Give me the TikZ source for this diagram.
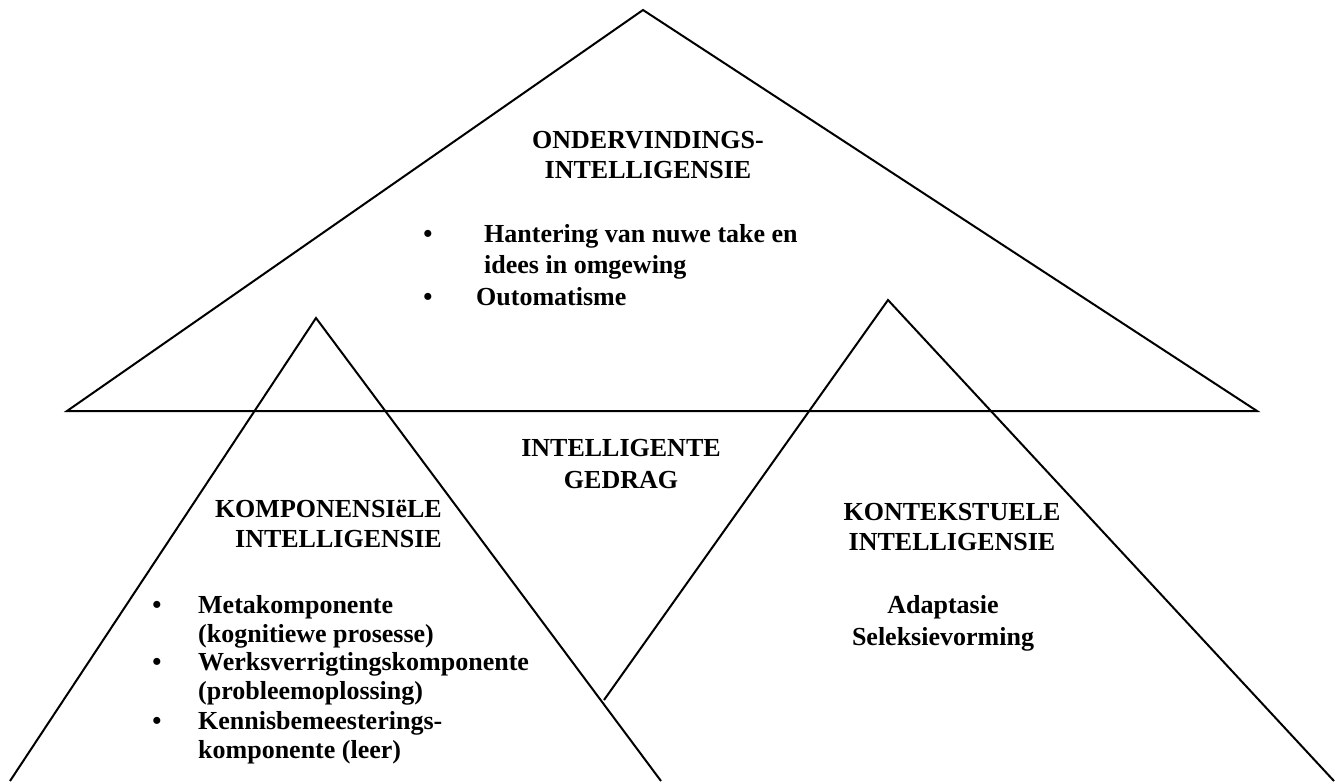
\documentclass[tikz,border=0pt]{standalone}
\usepackage{fontspec}
\setmainfont{Liberation Serif}
\usetikzlibrary{calc}
\tikzset{
  side/.style={line width=2pt,line join=miter},
  head/.style={font=\bfseries\fontsize{26}{30}\selectfont,align=center,
    inner sep=0pt,anchor=base},
  item/.style={font=\bfseries\fontsize{26}{29}\selectfont,align=left,
    inner sep=0pt,anchor=base west},
  dot/.style={font=\bfseries\fontsize{26}{29}\selectfont,inner sep=0pt,
    anchor=base}
}

\begin{document}
\begin{tikzpicture}[x=1pt,y=-1pt]
  \useasboundingbox (0,0) rectangle (1340,781);
  % the three triangles
  \coordinate (ondtop) at (643,10);
  \coordinate (ondleft) at (67,411);
  \coordinate (ondright) at (1257,411);
  \coordinate (komtop) at (316,318);
  \coordinate (komleft) at (10,781);
  \coordinate (komright) at (661,781);
  \coordinate (kontop) at (888,300);
  \coordinate (konleft) at (604,700);
  \coordinate (konright) at (1334,781);
  \draw[side] (ondtop)--(ondleft)--(ondright)--cycle;
  \draw[side] (komleft)--(komtop)--(komright);
  \draw[side] (konleft)--(kontop)--(konright);

  % ondervindings-intelligensie (base = last line)
  \node[head] (ondhead) at (648,178) {ONDERVINDINGS-\\INTELLIGENSIE};
  \node[dot] (onddot1) at (428,242) {•};
  \node[item,font=\bfseries\fontsize{26}{31}\selectfont] (onditem1) at (484,273)
    {Hantering van nuwe take en\\idees in omgewing};
  \node[dot] (onddot2) at (428,305) {•};
  \node[item] (onditem2) at (476,305) {Outomatisme};

  % middel
  \node[head,font=\bfseries\fontsize{26}{32}\selectfont] (gedrag) at (621,488)
    {INTELLIGENTE\\GEDRAG};

  % komponensiele intelligensie
  \node[head,align=right,anchor=base east] (komhead) at (442,547)
    {KOMPONENSIëLE\\INTELLIGENSIE};
  \node[dot] (komdot1) at (157,613) {•};
  \node[item] (komitem1) at (198,642) {Metakomponente\\(kognitiewe prosesse)};
  \node[dot] (komdot2) at (157,670) {•};
  \node[item] (komitem2) at (198,699) {Werksverrigtingskomponente\\(probleemoplossing)};
  \node[dot] (komdot3) at (157,729) {•};
  \node[item] (komitem3) at (198,758) {Kennisbemeesterings-\\komponente (leer)};

  % kontekstuele intelligensie
  \node[head] (konhead) at (952,550) {KONTEKSTUELE\\INTELLIGENSIE};
  \node[head,font=\bfseries\fontsize{26}{32}\selectfont] (konitems) at (943,645)
    {Adaptasie\\Seleksievorming};
\end{tikzpicture}
\end{document}
